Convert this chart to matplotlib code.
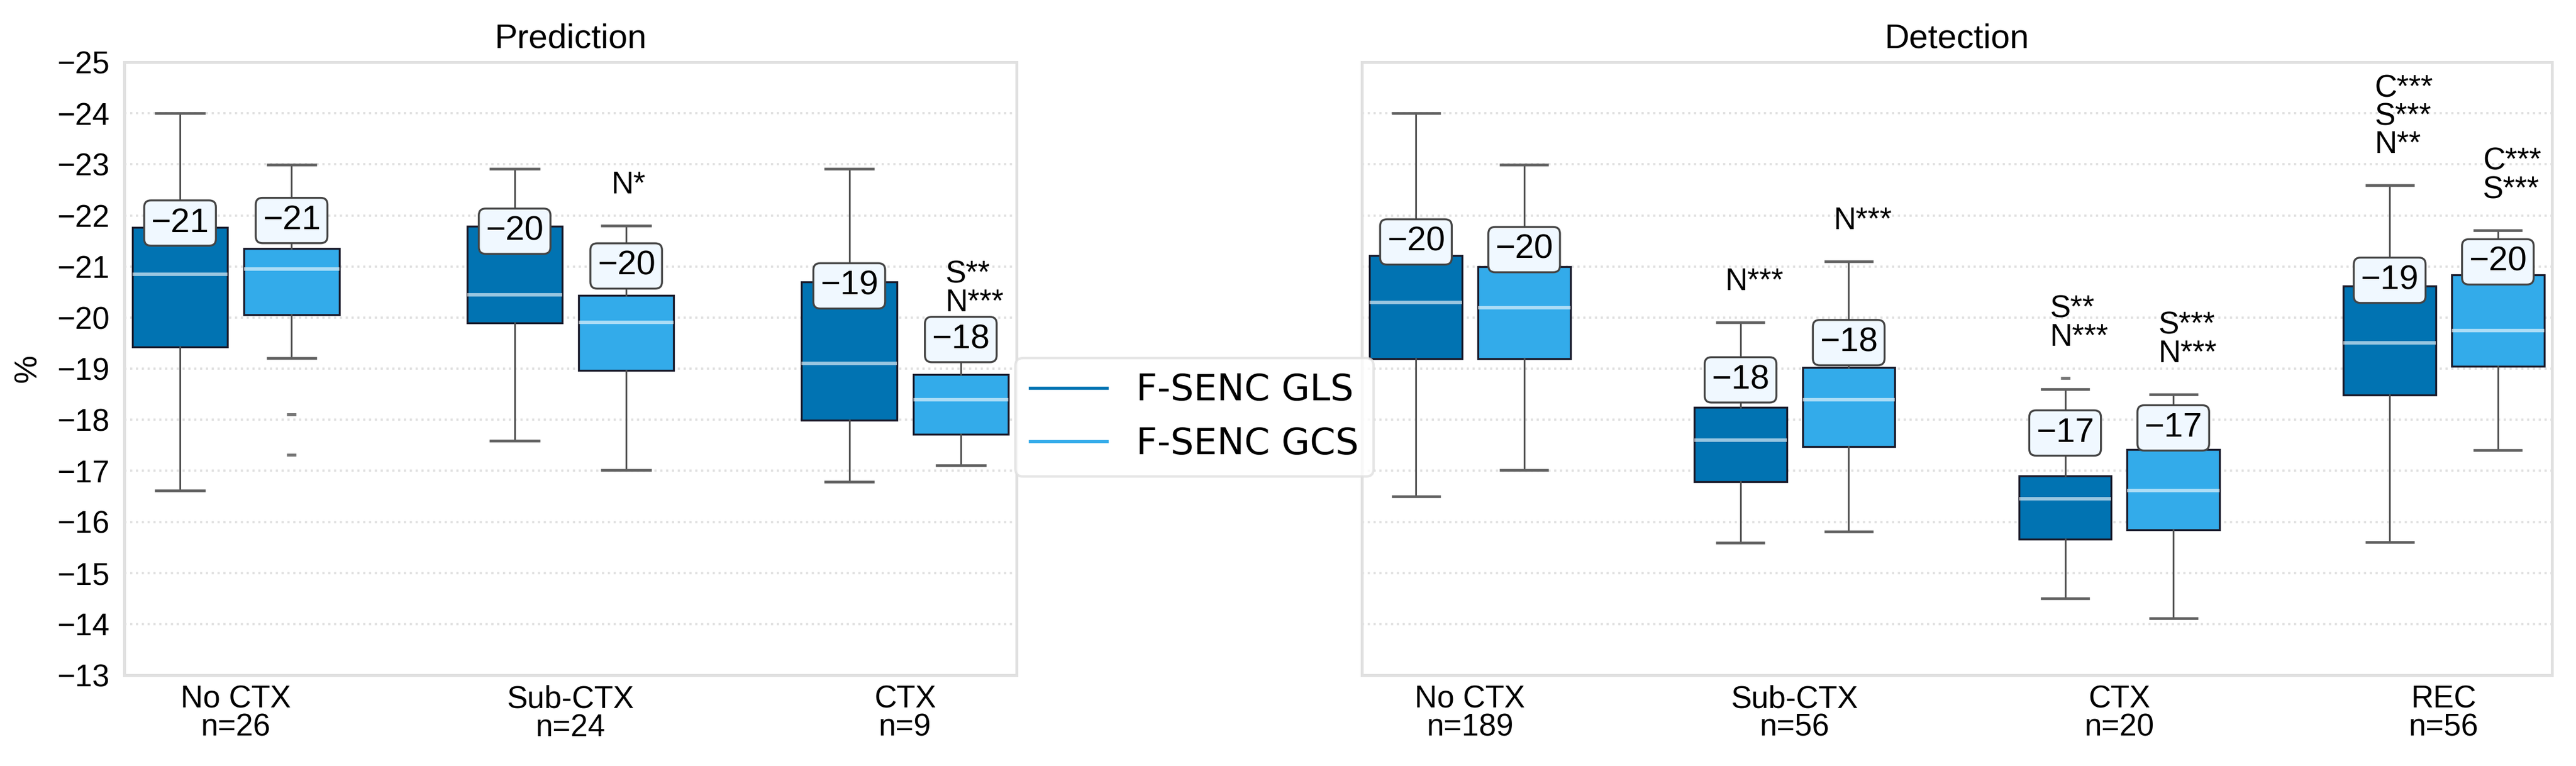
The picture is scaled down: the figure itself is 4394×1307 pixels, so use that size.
import matplotlib
matplotlib.use("Agg")
import matplotlib.pyplot as plt
from matplotlib.lines import Line2D

plt.rcParams['font.family'] = ['Liberation Sans', 'DejaVu Sans']

# ---------------- data ----------------
pred_categories = ['No CTX\nn=26', 'Sub-CTX\nn=24', 'CTX\nn=9']
det_categories = ['No CTX\nn=189', 'Sub-CTX\nn=56', 'CTX\nn=20', 'REC\nn=56']
series_names = ['F-SENC GLS', 'F-SENC GCS']

# five-number summaries: [min whisker, q1, median, q3, max whisker]
pred_gls = [[-24.00, -21.76, -20.85, -19.42, -16.61],
            [-22.91, -21.79, -20.44, -19.89, -17.59],
            [-22.91, -20.70, -19.10, -17.99, -16.79]]
pred_gcs = [[-22.99, -21.35, -20.95, -20.05, -19.21],
            [-21.80, -20.43, -19.91, -18.96, -17.01],
            [-19.50, -18.89, -18.39, -17.71, -17.11]]
pred_gls_fliers = [[], [], []]
pred_gcs_fliers = [[-18.10, -17.31], [], []]

det_gls = [[-24.00, -21.21, -20.30, -19.20, -16.50],
           [-19.91, -18.24, -17.60, -16.79, -15.59],
           [-18.60, -16.90, -16.45, -15.66, -14.50],
           [-22.59, -20.62, -19.51, -18.48, -15.60]]
det_gcs = [[-22.99, -21.00, -20.19, -19.20, -17.01],
           [-21.10, -19.02, -18.39, -17.47, -15.81],
           [-18.50, -17.42, -16.61, -15.85, -14.11],
           [-21.71, -20.83, -19.75, -19.05, -17.40]]
det_gls_fliers = [[], [], [-18.82], []]
det_gcs_fliers = [[], [], [], []]

# value labels (text and height)
pred_gls_label = [-21, -20, -19]
pred_gcs_label = [-21, -20, -18]
det_gls_label = [-20, -18, -17, -19]
det_gcs_label = [-20, -18, -17, -20]
pred_gls_label_y = [-21.85, -21.69, -20.62]
pred_gcs_label_y = [-21.90, -21.01, -19.57]
det_gls_label_y = [-21.48, -18.78, -17.74, -20.73]
det_gcs_label_y = [-21.33, -19.51, -17.84, -21.09]

# significance annotations
pred_gls_sig = ['', '', '']
pred_gcs_sig = ['', 'N*', 'S**\nN***']
det_gls_sig = ['', 'N***', 'S**\nN***', 'C***\nS***\nN**']
det_gcs_sig = ['', 'N***', 'S***\nN***', 'C***\nS***']

yticks = list(range(-25, -12))

# ---------------- style ----------------
c_dark = '#0173B2'
c_light = '#33ABEA'
W, H = 4394, 1307
fig = plt.figure(figsize=(W / 300, H / 300), dpi=300)
bottom = 1 - 1152 / H
height = 1046 / H
ax1 = fig.add_axes([212 / W, bottom, 1522 / W, height])
ax2 = fig.add_axes([2323 / W, bottom, 2030 / W, height])

offset = 1 / 6
bw = 0.285


def stats(summ, fl):
    out = []
    for s, f in zip(summ, fl):
        out.append(dict(whislo=s[0], q1=s[1], med=s[2], q3=s[3], whishi=s[4], fliers=f))
    return out


def draw(ax, cats, gls, gcs, glsf, gcsf, lab1, lab2, ly1, ly2, sig1, sig2, title):
    n = len(cats)
    for summ, fl, col, sgn, labs, ly, sigs in [
            (gls, glsf, c_dark, -1, lab1, ly1, sig1),
            (gcs, gcsf, c_light, 1, lab2, ly2, sig2)]:
        pos = [i + sgn * offset for i in range(n)]
        ax.bxp(stats(summ, fl), positions=pos, widths=bw, patch_artist=True,
               boxprops=dict(facecolor=col, edgecolor='#1a1a2a', linewidth=0.8),
               medianprops=dict(color='white', alpha=0.6, linewidth=1.4),
               whiskerprops=dict(color='#505050', linewidth=0.7),
               capprops=dict(color='#606060', linewidth=1.1),
               flierprops=dict(marker='_', markersize=4, markeredgecolor='#777777',
                               markeredgewidth=1.2),
               manage_ticks=False, zorder=2)
        for i in range(n):
            ax.text(pos[i], ly[i], '\u2212' + str(abs(labs[i])), ha='center', va='center',
                    fontsize=14, color='black', zorder=5,
                    bbox=dict(boxstyle='round,pad=0.2', facecolor='#F0F8FF',
                              edgecolor='#444444', linewidth=0.8))
            if sigs[i]:
                top = min([summ[i][0]] + list(fl[i]))
                ax.annotate(sigs[i], xy=(pos[i], top), xytext=(-6.2, 10.5),
                            textcoords='offset points', ha='left', va='bottom',
                            fontsize=12.7, linespacing=0.95, zorder=5)
    ax.set_xlim(-1 / 3, n - 1 + 1 / 3)
    ax.set_ylim(-13, -25)
    ax.set_yticks(yticks)
    ax.set_xticks(range(n))
    ax.set_xticklabels(cats, fontsize=12.7, linespacing=0.95)
    ax.tick_params(axis='both', length=0, labelsize=12.7)
    ax.tick_params(axis='x', pad=4)
    ax.tick_params(axis='y', pad=6)
    ax.yaxis.grid(True, linestyle=':', color='#e0e0e0', linewidth=0.9, zorder=0)
    ax.set_axisbelow(True)
    for sp in ax.spines.values():
        sp.set_color('#e0e0e0')
        sp.set_linewidth(1.2)
    ax.set_title(title, fontsize=14, pad=6)


draw(ax1, pred_categories, pred_gls, pred_gcs, pred_gls_fliers, pred_gcs_fliers,
     pred_gls_label, pred_gcs_label, pred_gls_label_y, pred_gcs_label_y,
     pred_gls_sig, pred_gcs_sig, 'Prediction')
draw(ax2, det_categories, det_gls, det_gcs, det_gls_fliers, det_gcs_fliers,
     det_gls_label, det_gcs_label, det_gls_label_y, det_gcs_label_y,
     det_gls_sig, det_gcs_sig, 'Detection')
ax2.set_yticklabels([])
ax1.set_yticklabels(['\u2212' + str(abs(t)) for t in yticks])
ax1.set_ylabel('%', fontsize=13, labelpad=6)

handles = [Line2D([0], [0], color=c_dark, lw=1.3), Line2D([0], [0], color=c_light, lw=1.3)]
leg = fig.legend(handles, series_names, loc='center left',
                 bbox_to_anchor=(1732 / W, 1 - 712 / H), bbox_transform=fig.transFigure,
                 borderaxespad=0, prop={'family': 'DejaVu Sans', 'size': 15},
                 handlelength=2.1, handletextpad=0.8, frameon=True, fancybox=True)
leg.get_frame().set_edgecolor('#e0e0e0')
leg.get_frame().set_linewidth(1.0)

fig.savefig('out.png', dpi=300)
